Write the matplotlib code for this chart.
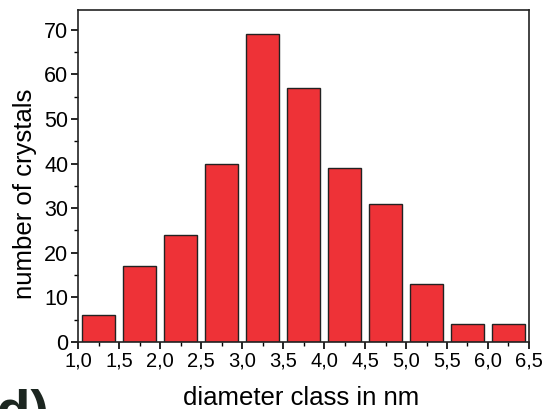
import matplotlib
matplotlib.use('Agg')
import matplotlib.pyplot as plt
from matplotlib.ticker import MultipleLocator

plt.rcParams['font.family'] = ['Liberation Sans', 'DejaVu Sans']

# diameter classes (bin centres, nm) and counts
bin_centres = [1.25, 1.75, 2.25, 2.75, 3.25, 3.75, 4.25, 4.75, 5.25, 5.75, 6.25]
counts = [6, 17, 24, 40, 69, 57, 39, 31, 13, 4, 4]
x_ticks = [1.0, 1.5, 2.0, 2.5, 3.0, 3.5, 4.0, 4.5, 5.0, 5.5, 6.0, 6.5]
x_tick_labels = ['1,0', '1,5', '2,0', '2,5', '3,0', '3,5', '4,0', '4,5', '5,0', '5,5', '6,0', '6,5']
y_ticks = [0, 10, 20, 30, 40, 50, 60, 70]

fig = plt.figure(figsize=(5.42, 4.09), dpi=100)
ax = fig.add_axes([0.144, 0.164, 0.832, 0.812])

ax.bar(bin_centres, counts, width=0.4, color='#ee3237', edgecolor='#222222', linewidth=1.0)

ax.set_xlim(1.0, 6.5)
ax.set_ylim(0, 74.5)
ax.set_xticks(x_ticks)
ax.set_xticklabels(x_tick_labels)
ax.set_yticks(y_ticks)
ax.xaxis.set_minor_locator(MultipleLocator(0.25))
ax.yaxis.set_minor_locator(MultipleLocator(5))
ax.tick_params(which='major', direction='out', length=5, width=1.2, pad=2)
ax.tick_params(axis='x', which='major', labelsize=14.5)
ax.tick_params(axis='y', which='major', labelsize=15.5)
ax.tick_params(which='minor', direction='out', length=3, width=1.0)
ax.tick_params(top=False, right=False)
for s in ax.spines.values():
    s.set_linewidth(1.2)
    s.set_color('#222222')

fig.text(0.046, 0.526, 'number of crystals', fontsize=18.5, rotation=90,
         ha='center', va='center')
fig.text(0.555, 0.027, 'diameter class in nm', fontsize=18.5, ha='center', va='center')

# panel letter, partially cut off at the bottom left
fig.text(-0.04, -0.05, '(d)', fontsize=40, fontweight='bold', color='#1c2620',
         ha='left', va='baseline')

fig.savefig('out.png', dpi=100)
